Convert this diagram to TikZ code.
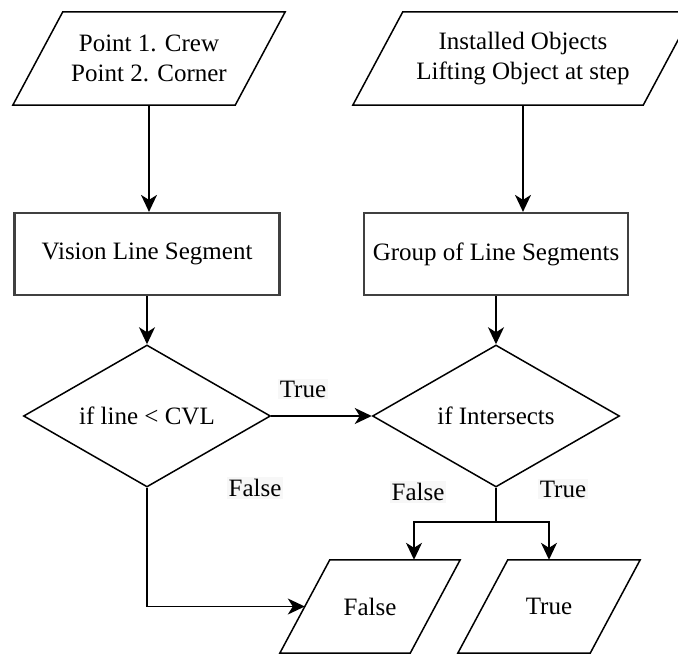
\documentclass[tikz,border=0pt]{standalone}
\usepackage{fontspec}
\setmainfont{Liberation Serif}
\usetikzlibrary{shapes.geometric,arrows.meta,calc}

\begin{document}
\begin{tikzpicture}
  [x=1pt,y=-1pt,>={Stealth[length=17pt,width=16pt,inset=5pt]},
   font=\fontsize{25}{30}\selectfont,
   line/.style={draw,line width=1.5pt},
   io/.style={inner sep=0pt,minimum height=93pt,align=center},
   proc/.style={draw=black!75,line width=2.2pt,minimum height=82pt,inner sep=0pt},
   decision/.style={draw,diamond,line width=1.5pt,minimum width=247pt,minimum height=142pt,shape aspect=1.7,inner sep=0pt},
   lbl/.style={fill=black!3,inner sep=2pt},]

\clip (0,0) rectangle (678,655);

% inputs
\node[io,minimum width=172pt] (pts) at (149,58.5) {Point 1. Crew\\Point 2. Corner};
\node[io,minimum width=240pt] (objs) at (523,58.5) {Installed Objects\\Lifting Object at step};

% processes
\node[proc,minimum width=265pt] (vis) at (147,254) {Vision Line Segment};
\node[proc,minimum width=264pt] (grp) at (496,254) {Group of Line Segments};

% decisions
\node[decision] (dec1) at (147,416) {if line < CVL};
\node[decision] (dec2) at (496,416) {if Intersects};

% outputs
\node[io,minimum width=80pt] (outf) at (370,606.5) {False};
\node[io,minimum width=82pt] (outt) at (549,606.5) {True};

% parallelogram outlines
\foreach \n in {pts,objs,outf,outt}
  \draw[line] ([xshift=-50pt]\n.south west) -- (\n.north west) -- ([xshift=50pt]\n.north east) -- (\n.south east) -- cycle;

\coordinate (fin) at ($([xshift=-50pt]outf.south west)!0.5!(outf.north west)$);
\coordinate (split) at ($(dec2.south)+(0,34)$);

% connectors
\draw[line,->] (pts.south) -- (pts.south |- vis.north);
\draw[line,->] (objs.south) -- (objs.south |- grp.north);
\draw[line,->] (vis.south) -- (dec1.north);
\draw[line,->] (grp.south) -- (dec2.north);
\draw[line,->] (dec1.east) -- (dec2.west);
\draw[line,->] (dec1.south) |- (fin);
\draw[line] (dec2.south) -- (split);
\draw[line,->] (split) -| ([xshift=44pt]outf.north);
\draw[line,->] (split) -| (outt.north);

% labels
\node[lbl] (ltrue) at (303,389) {True};
\node[lbl] (lfalse) at (255,488) {False};
\node[lbl] (rfalse) at (418,492) {False};
\node[lbl] (rtrue) at (563,489) {True};

\end{tikzpicture}
\end{document}
